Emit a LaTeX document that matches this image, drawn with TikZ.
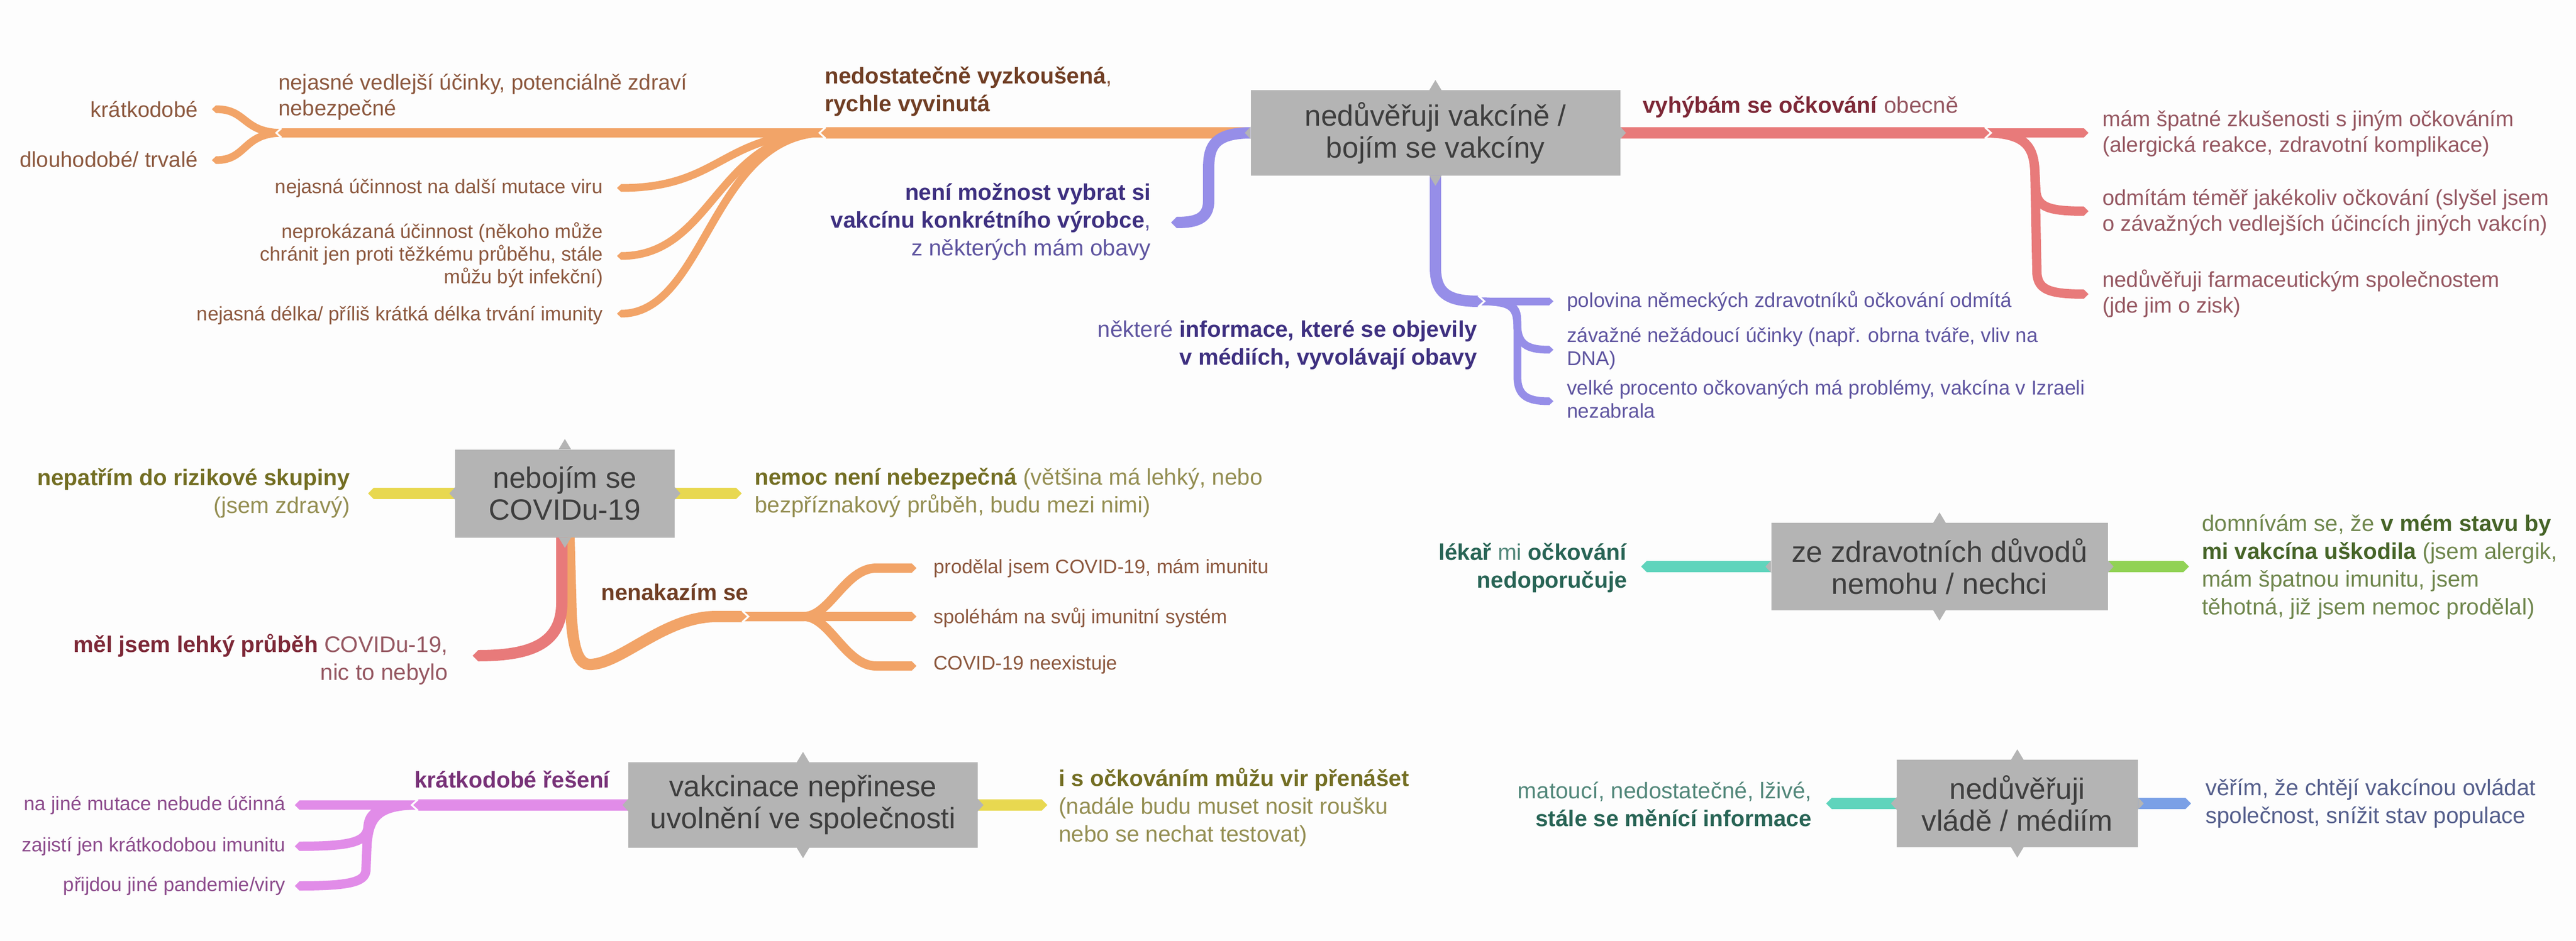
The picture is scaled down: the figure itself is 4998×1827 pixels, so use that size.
\documentclass[tikz,border=0pt]{standalone}
\usepackage{fontspec}
\setmainfont{Liberation Sans}
\usetikzlibrary{arrows.meta}

\definecolor{bg}{RGB}{253,253,253}
\definecolor{boxfill}{RGB}{180,180,180}
\definecolor{boxtext}{RGB}{62,62,62}
\definecolor{corange}{RGB}{242,164,104}
\definecolor{torange}{RGB}{140,88,62}
\definecolor{torangeb}{RGB}{112,62,36}
\definecolor{cpurple}{RGB}{150,142,232}
\definecolor{tpurple}{RGB}{95,85,160}
\definecolor{tpurpleb}{RGB}{62,48,128}
\definecolor{cred}{RGB}{232,122,122}
\definecolor{tred}{RGB}{150,88,98}
\definecolor{tredb}{RGB}{125,40,55}
\definecolor{cyellow}{RGB}{232,216,80}
\definecolor{tyellow}{RGB}{148,142,82}
\definecolor{tyellowb}{RGB}{115,110,35}
\definecolor{cteal}{RGB}{95,212,188}
\definecolor{tteal}{RGB}{82,135,122}
\definecolor{ttealb}{RGB}{40,100,85}
\definecolor{cgreen}{RGB}{145,210,85}
\definecolor{tgreen}{RGB}{112,135,78}
\definecolor{tgreenb}{RGB}{70,100,40}
\definecolor{cpink}{RGB}{225,140,232}
\definecolor{tpink}{RGB}{140,75,140}
\definecolor{tpinkb}{RGB}{120,50,120}
\definecolor{cblue}{RGB}{122,160,230}
\definecolor{tblue}{RGB}{85,95,140}

\newcommand\mmspikes[1]{%
  \fill[boxfill] ([xshift=-12pt]#1.north) -- ([yshift=20pt]#1.north) -- ([xshift=12pt]#1.north) -- cycle;
  \fill[boxfill] ([xshift=-12pt]#1.south) -- ([yshift=-20pt]#1.south) -- ([xshift=12pt]#1.south) -- cycle;
  \fill[boxfill] ([yshift=12pt]#1.west) -- ([xshift=-11pt]#1.west) -- ([yshift=-12pt]#1.west) -- cycle;
  \fill[boxfill] ([yshift=12pt]#1.east) -- ([xshift=11pt]#1.east) -- ([yshift=-12pt]#1.east) -- cycle;}

\begin{document}
\begin{tikzpicture}[x=1pt,y=-1pt,
  bandA/.style={draw=#1, line width=22pt, -{Triangle[length=11pt,width=22pt,line width=0pt]}},
  bandB/.style={draw=#1, line width=18pt, -{Triangle[length=9pt,width=18pt,line width=0pt]}},
  bandC/.style={draw=#1, line width=15pt, -{Triangle[length=8pt,width=15pt,line width=0pt]}},
  notch/.style={draw=bg, line width=3.5pt, line join=miter},
  mbox/.style={fill=boxfill, text=boxtext, align=center, inner sep=0pt,
    font=\fontsize{57}{62}\selectfont},
  labA/.style={inner sep=0pt, font=\fontsize{44}{54}\selectfont},
  labB/.style={inner sep=0pt, font=\fontsize{42}{50}\selectfont},
  labC/.style={inner sep=0pt, font=\fontsize{38}{44}\selectfont},
  labD/.style={inner sep=0pt, font=\fontsize{39}{45}\selectfont}]

\useasboundingbox (0,0) rectangle (4998,1827);
\fill[bg] (0,0) rectangle (4998,1827);

% ---------------- boxes ----------------
\node[mbox, minimum width=717pt, minimum height=165pt] (bxVak) at (2785,258) {nedůvěřuji vakcíně /\\bojím se vakcíny};
\node[mbox, minimum width=426pt, minimum height=171pt] (bxCov) at (1096,958) {nebojím se\\COVIDu-19};
\node[mbox, minimum width=653pt, minimum height=170pt] (bxZdr) at (3763,1100) {ze zdravotních důvodů\\nemohu / nechci};
\node[mbox, minimum width=678pt, minimum height=166pt] (bxSpol) at (1558,1563) {vakcinace nepřinese\\uvolnění ve společnosti};
\node[mbox, minimum width=468pt, minimum height=170pt] (bxVlad) at (3914,1560) {nedůvěřuji\\vládě / médiím};

% ---------------- top: orange ----------------
\coordinate (oJ) at (1590,258);
\coordinate (oS) at (1602,258);
\coordinate (oK) at (536,258);
\coordinate (oKs) at (548,258);
\draw[bandA=corange] (bxVak.west) -- (oJ);
\draw[bandB=corange] (oS) -- (oK);
\draw[bandC=corange] (oS) .. controls (1400,258) and (1400,365) .. (1197,365);
\draw[bandC=corange] (oS) .. controls (1390,258) and (1385,497) .. (1197,497);
\draw[bandC=corange] (oS) .. controls (1380,258) and (1370,609) .. (1197,609);
\draw[bandC=corange] (oKs) .. controls (470,258) and (480,212) .. (411,212);
\draw[bandC=corange] (oKs) .. controls (470,258) and (480,311) .. (411,311);
\draw[notch] ([shift={(12,-11)}]oJ) -- (oJ) -- ([shift={(12,11)}]oJ);
\draw[notch] ([shift={(10,-9)}]oK) -- (oK) -- ([shift={(10,9)}]oK);

\node[labA, anchor=west, align=left, text=torangeb] (tNedost) at (1600,178)
  {\textbf{nedostatečně vyzkoušená}{\color{torange},}\\\textbf{rychle vyvinutá}};
\node[labB, anchor=west, align=left, text=torange] (tVedl) at (540,188)
  {nejasné vedlejší účinky, potenciálně zdraví\\nebezpečné};
\node[labB, anchor=east, text=torange] (tKrat) at (384,212) {krátkodobé};
\node[labB, anchor=east, text=torange] (tDlouh) at (384,309) {dlouhodobé/ trvalé};
\node[labC, anchor=east, align=right, text=torange] (tMut) at (1170,365) {nejasná účinnost na další mutace viru};
\node[labC, anchor=east, align=right, text=torange] (tNeprok) at (1170,495)
  {neprokázaná účinnost (někoho může\\chránit jen proti těžkému průběhu, stále\\můžu být infekční)};
\node[labC, anchor=east, align=right, text=torange] (tDelka) at (1170,612) {nejasná délka/ příliš krátká délka trvání imunity};

% ---------------- top: purple ----------------
\draw[bandA=cpurple] (bxVak.west) .. controls (2350,258) and (2345,290) .. (2345,330) -- (2345,390) .. controls (2345,425) and (2320,432) .. (2272,432);
\node[labA, anchor=east, align=right, text=tpurple] (tVybrat) at (2233,431)
  {\textcolor{tpurpleb}{\textbf{není možnost vybrat si}}\\\textcolor{tpurpleb}{\textbf{vakcínu konkrétního výrobce}},\\z některých mám obavy};

\coordinate (pJ) at (2880,585);
\coordinate (pS) at (2869,585);
\draw[bandA=cpurple] (bxVak.south) -- (2785,520) .. controls (2785,570) and (2810,585) .. (pJ);
\draw[bandC=cpurple] (pS) -- (3014,585);
\draw[bandC=cpurple] (pS) .. controls (2944,585) and (2944,600) .. (2944,630) .. controls (2944,668) and (2962,679) .. (3014,679);
\draw[bandC=cpurple] (pS) .. controls (2944,585) and (2944,600) .. (2944,650) -- (2944,730) .. controls (2944,768) and (2962,779) .. (3014,779);
\draw[notch] ([shift={(-12,-11)}]pJ) -- (pJ) -- ([shift={(-12,11)}]pJ);
\node[labA, anchor=east, align=right, text=tpurple] (tInfo) at (2866,670)
  {některé \textcolor{tpurpleb}{\textbf{informace, které se objevily}}\\\textcolor{tpurpleb}{\textbf{v médiích, vyvolávají obavy}}};
\node[labD, anchor=west, align=left, text=tpurple] (tPolov) at (3040,585) {polovina německých zdravotníků očkování odmítá};
\node[labD, anchor=west, align=left, text=tpurple] (tZavaz) at (3040,677) {závažné nežádoucí účinky (např. obrna tváře, vliv na\\DNA)};
\node[labD, anchor=west, align=left, text=tpurple] (tVelke) at (3040,775) {velké procento očkovaných má problémy, vakcína v Izraeli\\nezabrala};

% ---------------- top: red ----------------
\coordinate (rJ) at (3863,258);
\coordinate (rS) at (3852,258);
\draw[bandA=cred] (bxVak.east) -- (rJ);
\draw[bandB=cred] (rS) -- (4052,258);
\draw[bandB=cred] (rS) .. controls (3935,258) and (3945,290) .. (3948,330) -- (3950,370) .. controls (3952,402) and (3975,410) .. (4052,410);
\draw[bandB=cred] (rS) .. controls (3935,258) and (3945,290) .. (3948,330) -- (3952,530) .. controls (3954,562) and (3975,571) .. (4052,571);
\draw[notch] ([shift={(-12,-11)}]rJ) -- (rJ) -- ([shift={(-12,11)}]rJ);
\node[labA, anchor=west, text=tred] (tVyhyb) at (3187,208) {\textcolor{tredb}{\textbf{vyhýbám se očkování}} obecně};
\node[labB, anchor=west, align=left, text=tred] (tSpatne) at (4079,259) {mám špatné zkušenosti s jiným očkováním\\(alergická reakce, zdravotní komplikace)};
\node[labB, anchor=west, align=left, text=tred] (tOdmit) at (4079,412) {odmítám téměř jakékoliv očkování (slyšel jsem\\o závažných vedlejších účincích jiných vakcín)};
\node[labB, anchor=west, align=left, text=tred] (tFarma) at (4079,570) {nedůvěřuji farmaceutickým společnostem\\(jde jim o zisk)};

% ---------------- middle left ----------------
\draw[bandA=cyellow] (bxCov.west) -- (714,958);
\draw[bandA=cyellow] (bxCov.east) -- (1439,958);
\node[labA, anchor=east, align=right, text=tyellow] (tRiziko) at (679,958)
  {\textcolor{tyellowb}{\textbf{nepatřím do rizikové skupiny}}\\(jsem zdravý)};
\node[labA, anchor=west, align=left, text=tyellow] (tNemoc) at (1464,957)
  {\textcolor{tyellowb}{\textbf{nemoc není nebezpečná}} (většina má lehký, nebo\\bezpříznakový průběh, budu mezi nimi)};

\coordinate (nJ) at (1452,1197);
\coordinate (nS) at (1441,1197);
\draw[bandA=corange] ([xshift=8pt]bxCov.south) -- (1108,1190) .. controls (1112,1270) and (1125,1292) .. (1148,1290) .. controls (1210,1285) and (1290,1197) .. (1390,1197) -- (nJ);
\draw[bandA=cred] ([xshift=-6pt]bxCov.south) -- (1090,1170) .. controls (1090,1250) and (1030,1273) .. (917,1273);
\draw[bandB=corange] (nS) -- (1778,1197);
\draw[bandB=corange] (nS) -- (1560,1197) .. controls (1610,1197) and (1640,1103) .. (1700,1103) -- (1778,1103);
\draw[bandB=corange] (nS) -- (1560,1197) .. controls (1610,1197) and (1640,1293) .. (1700,1293) -- (1778,1293);
\draw[notch] ([shift={(-12,-11)}]nJ) -- (nJ) -- ([shift={(-12,11)}]nJ);
\node[labA, anchor=east, align=right, text=tred] (tLehky) at (869,1280)
  {\textcolor{tredb}{\textbf{měl jsem lehký průběh}} COVIDu-19,\\nic to nebylo};
\node[labA, anchor=west, text=torangeb] (tNenak) at (1166,1150) {\textbf{nenakazím se}};
\node[labC, anchor=west, text=torange] (tProdel) at (1811,1103) {prodělal jsem COVID-19, mám imunitu};
\node[labC, anchor=west, text=torange] (tSpoleh) at (1811,1199) {spoléhám na svůj imunitní systém};
\node[labC, anchor=west, text=torange] (tNeex) at (1811,1291) {COVID-19 neexistuje};

% ---------------- middle right ----------------
\draw[bandA=cteal] (bxZdr.west) -- (3184,1100);
\draw[bandA=cgreen] (bxZdr.east) -- (4247,1100);
\node[labA, anchor=east, align=right, text=tteal] (tLekar) at (3157,1103)
  {\textcolor{ttealb}{\textbf{lékař}} mi \textcolor{ttealb}{\textbf{očkování}}\\\textcolor{ttealb}{\textbf{nedoporučuje}}};
\node[labA, anchor=west, align=left, text=tgreen] (tDomn) at (4272,1101)
  {domnívám se, že \textcolor{tgreenb}{\textbf{v mém stavu by}}\\\textcolor{tgreenb}{\textbf{mi vakcína uškodila}} (jsem alergik,\\mám špatnou imunitu, jsem\\těhotná, již jsem nemoc prodělal)};

% ---------------- bottom left ----------------
\coordinate (kJ) at (799,1563);
\coordinate (kS) at (810,1563);
\draw[bandA=cpink] (bxSpol.west) -- (kJ);
\draw[bandB=cpink] (kS) -- (572,1563);
\draw[bandB=cpink] (kS) .. controls (730,1563) and (716,1580) .. (714,1605) .. controls (712,1635) and (680,1643) .. (572,1643);
\draw[bandB=cpink] (kS) .. controls (730,1563) and (716,1590) .. (712,1640) -- (710,1690) .. controls (708,1712) and (680,1720) .. (572,1720);
\draw[notch] ([shift={(12,-11)}]kJ) -- (kJ) -- ([shift={(12,11)}]kJ);
\node[labA, anchor=west, text=tpinkb] (tKratR) at (804,1513) {\textbf{krátkodobé řešení}};
\node[labC, anchor=east, text=tpink] (tMutace) at (554,1563) {na jiné mutace nebude účinná};
\node[labC, anchor=east, text=tpink] (tZajist) at (554,1643) {zajistí jen krátkodobou imunitu};
\node[labC, anchor=east, text=tpink] (tPrijdou) at (554,1720) {přijdou jiné pandemie/viry};

\draw[bandA=cyellow] (bxSpol.east) -- (2032,1563);
\node[labA, anchor=west, align=left, text=tyellow] (tPrenas) at (2054,1567)
  {\textcolor{tyellowb}{\textbf{i s očkováním můžu vir přenášet}}\\(nadále budu muset nosit roušku\\nebo se nechat testovat)};

% ---------------- bottom right ----------------
\draw[bandA=cteal] (bxVlad.west) -- (3543,1560);
\draw[bandA=cblue] (bxVlad.east) -- (4251,1560);
\node[labA, anchor=east, align=right, text=tteal] (tMatouci) at (3515,1561)
  {matoucí, nedostatečné, lživé,\\\textcolor{ttealb}{\textbf{stále se měnící informace}}};
\node[labA, anchor=west, align=left, text=tblue] (tVerim) at (4279,1560)
  {věřím, že chtějí vakcínou ovládat\\společnost, snížit stav populace};

% ---------------- box spikes ----------------
\mmspikes{bxVak}
\mmspikes{bxCov}
\mmspikes{bxZdr}
\mmspikes{bxSpol}
\mmspikes{bxVlad}
\end{tikzpicture}
\end{document}
